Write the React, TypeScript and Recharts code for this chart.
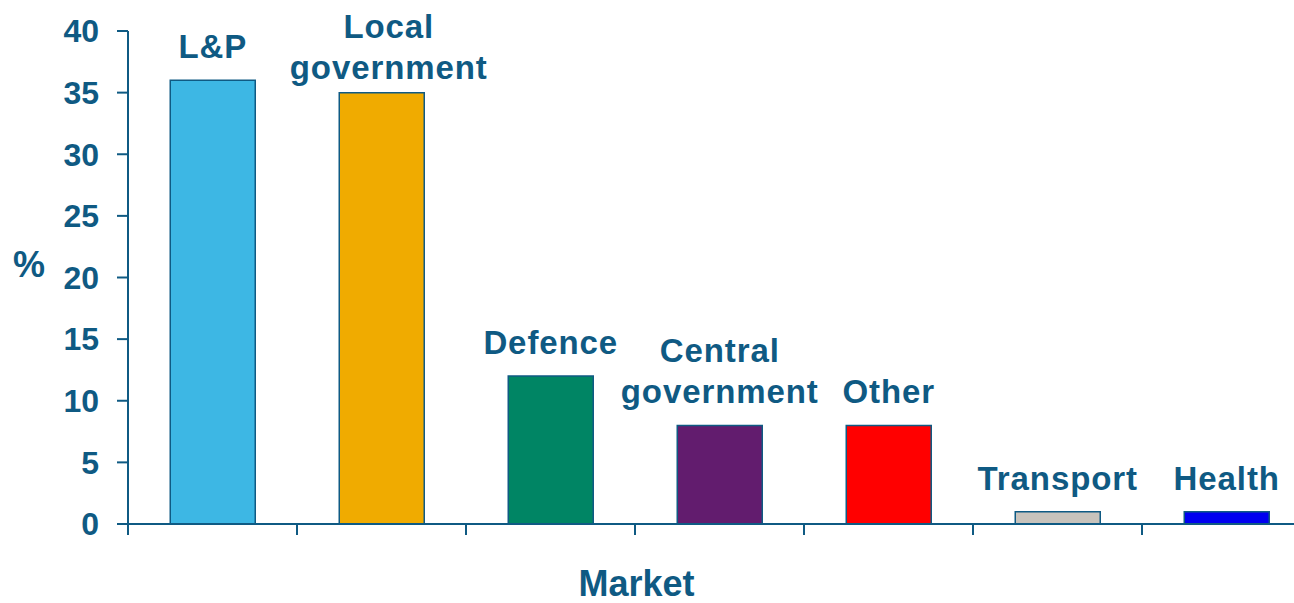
import React from "react";
import { BarChart, Bar, XAxis, YAxis, Cell, LabelList, Label } from "recharts";

const categories = ["L&P", "Local government", "Defence", "Central government", "Other", "Transport", "Health"];
const shares = [36, 35, 12, 8, 8, 1, 1];
const barColors = ["#3DB7E4", "#F0AB00", "#008564", "#621C6E", "#FF0000", "#C8C3BC", "#0000F0"];
const labelLines = [["L&P"], ["Local", "government"], ["Defence"], ["Central", "government"], ["Other"], ["Transport"], ["Health"]];
const yTicks = [0, 5, 10, 15, 20, 25, 30, 35, 40];

const INK = "#0f5a83";
const FONT = "'Liberation Sans', Arial, sans-serif";
// small render nudges for label placement (style only)
const LABEL_NUDGE: Record<number, { dx: number; dy: number }> = { 1: { dx: 7, dy: 8 } };

const data = categories.map((market, i) => ({ market, share: shares[i] }));

const BoundaryTick = (props: any) => {
  const { x, y, payload, index } = props;
  const off = payload?.offset ?? 0;
  const lines = [x - off];
  if (index === categories.length - 1) lines.push(x + off);
  return (
    <g>
      {lines.map((lx, i) => (
        <line key={i} x1={lx} x2={lx} y1={y} y2={y + 11} stroke={INK} strokeWidth={2} />
      ))}
    </g>
  );
};

const BarLabel = (props: any) => {
  const { x, y, width, index } = props;
  const lines = labelLines[index] || [];
  const nudge = LABEL_NUDGE[index] || { dx: 0, dy: 0 };
  const cx = x + width / 2 + nudge.dx;
  const lh = 41;
  const base = y - 22 + nudge.dy;
  return (
    <text
      textAnchor="middle"
      fontFamily={FONT}
      fontWeight="bold"
      fontSize={33}
      letterSpacing={0.9}
      fill={INK}
    >
      {lines.map((t, i) => (
        <tspan key={i} x={cx} y={base - (lines.length - 1 - i) * lh}>
          {t}
        </tspan>
      ))}
    </text>
  );
};

export default function App() {
  return (
    <div style={{ position: "absolute", left: 0, top: 0, width: 1294, height: 603, overflow: "hidden", background: "#fff" }}>
      <BarChart
        width={1320}
        height={603}
        data={data}
        margin={{ top: 31, right: 9, bottom: 0, left: 0 }}
        barCategoryGap="25%"
      >
        <XAxis
          dataKey="market"
          interval={0}
          tickSize={0}
          tickMargin={0}
          tick={<BoundaryTick />}
          height={79}
          axisLine={{ stroke: INK, strokeWidth: 2 }}
        >
          <Label
            value="Market"
            position="insideBottom"
            offset={7}
            dx={-83}
            style={{ fontFamily: FONT, fontWeight: "bold", fontSize: 36, fill: INK }}
          />
        </XAxis>
        <YAxis
          type="number"
          domain={[0, 40]}
          ticks={yTicks}
          interval={0}
          width={128}
          tickSize={11}
          tickMargin={18}
          axisLine={{ stroke: INK, strokeWidth: 2 }}
          tickLine={{ stroke: INK, strokeWidth: 2 }}
          tick={{ fontFamily: FONT, fontWeight: "bold", fontSize: 32, fill: INK }}
        >
          <Label
            value="%"
            position="insideLeft"
            offset={13}
            dy={-13}
            style={{ fontFamily: FONT, fontWeight: "bold", fontSize: 36, fill: INK }}
          />
        </YAxis>
        <Bar dataKey="share" isAnimationActive={false} stroke={INK} strokeWidth={1.5}>
          {data.map((d, i) => (
            <Cell key={d.market} fill={barColors[i]} />
          ))}
          <LabelList dataKey="share" content={<BarLabel />} />
        </Bar>
      </BarChart>
    </div>
  );
}
